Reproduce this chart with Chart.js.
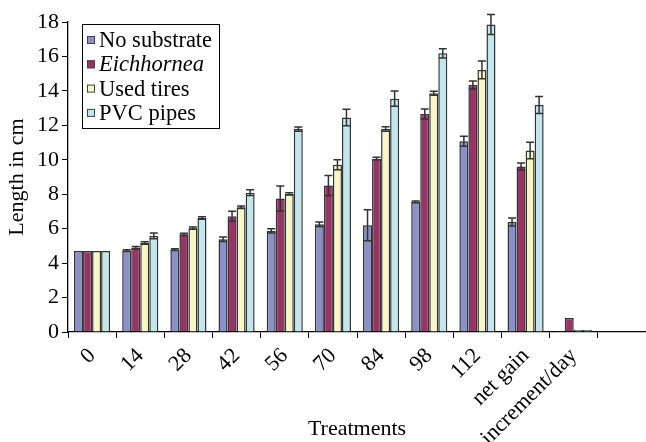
<!DOCTYPE html>
<html>
<head>
<meta charset="utf-8">
<script src="https://cdn.jsdelivr.net/npm/chart.js@4.4.1/dist/chart.umd.min.js"></script>
<style>
  html, body { margin: 0; padding: 0; background: #fff; }
  #wrap { width: 646px; height: 442px; }
</style>
</head>
<body>
<div id="wrap"><canvas id="c" width="646" height="442"></canvas></div>
<script>
const categories = ['0', '14', '28', '42', '56', '70', '84', '98', '112', 'net gain', 'increment/day', ''];
const seriesNames = ['No substrate', 'Eichhornea', 'Used tires', 'PVC pipes'];
const noSubstrate = [4.7, 4.72, 4.78, 5.39, 5.87, 6.26, 6.2, 7.55, 11.08, 6.39, 0.06, null];
const eichhornea  = [4.7, 4.9, 5.67, 6.72, 7.75, 8.5, 10.06, 12.66, 14.34, 9.61, 0.81, null];
const usedTires   = [4.7, 5.17, 6.03, 7.24, 8.02, 9.71, 11.79, 13.86, 15.22, 10.54, 0.11, null];
const pvcPipes    = [4.7, 5.58, 6.62, 8.09, 11.78, 12.46, 13.55, 16.18, 17.86, 13.18, 0.11, null];
const errNoSubstrate = [0, 0.05, 0.05, 0.13, 0.12, 0.13, 0.9, 0.05, 0.29, 0.23, 0, null];
const errEichhornea  = [0, 0.07, 0.07, 0.29, 0.73, 0.58, 0.08, 0.29, 0.23, 0.21, 0, null];
const errUsedTires   = [0, 0.07, 0.07, 0.07, 0.07, 0.29, 0.13, 0.12, 0.52, 0.48, 0, null];
const errPvcPipes    = [0, 0.17, 0.07, 0.17, 0.13, 0.48, 0.44, 0.27, 0.58, 0.5, 0, null];
const yTicks = [0, 2, 4, 6, 8, 10, 12, 14, 16, 18];

const colors = ['#8A90C8', '#993366', '#F6F6C6', '#C1E6EC'];
const italicLegend = [false, true, false, false];
const serif = '"Liberation Serif"';
Chart.defaults.font.family = serif;

const errorBars = {
  id: 'errorBars',
  afterDatasetsDraw(chart) {
    const ctx = chart.ctx;
    const y = chart.scales.y;
    ctx.save();
    ctx.strokeStyle = '#333';
    ctx.lineWidth = 1.5;
    chart.data.datasets.forEach((ds, i) => {
      const meta = chart.getDatasetMeta(i);
      meta.data.forEach((bar, j) => {
        const v = ds.data[j], e = ds.errors[j];
        if (v == null || !e) return;
        const x = bar.x;
        const yt = y.getPixelForValue(v + e);
        const yb = y.getPixelForValue(v - e);
        const half = 4;
        ctx.beginPath();
        ctx.moveTo(x, yt); ctx.lineTo(x, yb);
        ctx.moveTo(x - half, yt); ctx.lineTo(x + half, yt);
        ctx.moveTo(x - half, yb); ctx.lineTo(x + half, yb);
        ctx.stroke();
      });
    });
    ctx.restore();
  }
};

const boxLegend = {
  id: 'boxLegend',
  afterDraw(chart, args, opts) {
    const ctx = chart.ctx;
    ctx.save();
    ctx.strokeStyle = '#000';
    ctx.lineWidth = 1;
    ctx.strokeRect(opts.x + 0.5, opts.y + 0.5, opts.w, opts.h);
    chart.data.datasets.forEach((ds, i) => {
      const cy = opts.y + opts.first + i * opts.step;
      ctx.fillStyle = ds.backgroundColor;
      ctx.fillRect(opts.x + 5, cy - 4, 8, 8);
      ctx.strokeStyle = '#444';
      ctx.strokeRect(opts.x + 5.5, cy - 3.5, 7, 7);
      ctx.fillStyle = '#000';
      ctx.font = (italicLegend[i] ? 'italic ' : 'normal ') + opts.size + 'px ' + serif;
      ctx.textBaseline = 'middle';
      ctx.textAlign = 'left';
      ctx.fillText(ds.label, opts.x + 17, cy + 1);
    });
    ctx.restore();
  }
};

const seriesData = [noSubstrate, eichhornea, usedTires, pvcPipes];
const seriesErr = [errNoSubstrate, errEichhornea, errUsedTires, errPvcPipes];

new Chart(document.getElementById('c'), {
  type: 'bar',
  data: {
    labels: categories,
    datasets: seriesNames.map((n, i) => ({
      label: n,
      data: seriesData[i],
      errors: seriesErr[i],
      backgroundColor: colors[i],
      borderColor: '#333',
      borderWidth: 1.5,
      categoryPercentage: 0.75,
      barPercentage: 1.0
    }))
  },
  options: {
    responsive: false,
    animation: false,
    layout: { padding: { top: 22, right: 0, bottom: 0, left: 0 } },
    plugins: {
      legend: { display: false },
      tooltip: { enabled: false },
      boxLegend: { x: 82, y: 24, w: 137, h: 104, first: 16, step: 24.3, size: 22.5 }
    },
    scales: {
      x: {
        offset: true,
        grid: { display: true, drawOnChartArea: false, drawTicks: true, tickLength: 6, color: '#000', offset: true },
        border: { display: true, color: '#000', width: 1.3 },
        ticks: { color: '#000', font: { family: serif, size: 22 }, minRotation: 45, maxRotation: 45, autoSkip: false, padding: 5 },
        title: { display: true, text: 'Treatments', color: '#000', font: { family: serif, size: 22 }, padding: { top: 0, bottom: 0 } },
        afterFit(scale) { scale.height = 110; }
      },
      y: {
        min: 0, max: 18,
        afterBuildTicks(scale) { scale.ticks = yTicks.map(v => ({ value: v })); },
        grid: { display: true, drawOnChartArea: false, drawTicks: true, tickLength: 6, color: '#000' },
        border: { display: true, color: '#000', width: 1.3 },
        ticks: { color: '#000', font: { family: serif, size: 22 }, padding: 3 },
        title: { display: true, text: 'Length in cm', color: '#000', font: { family: serif, size: 22 }, padding: { top: 4, bottom: 0 } },
        afterFit(scale) { scale.width = 68; }
      }
    }
  },
  plugins: [errorBars, boxLegend]
});
</script>
</body>
</html>
